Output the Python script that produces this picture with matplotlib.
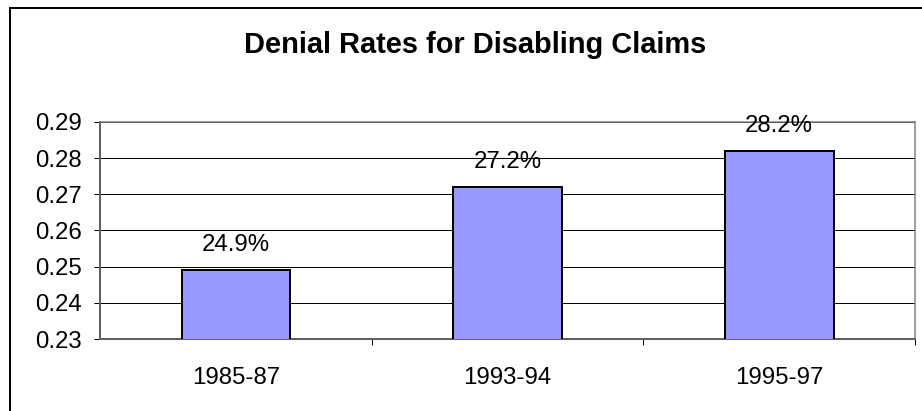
import matplotlib.pyplot as plt
from matplotlib.patches import Rectangle

periods = ["1985-87", "1993-94", "1995-97"]
denial_rates = [0.249, 0.272, 0.282]
yticks = [0.23, 0.24, 0.25, 0.26, 0.27, 0.28, 0.29]

plt.rcParams['font.family'] = ['Liberation Sans', 'DejaVu Sans']

W, H = 922, 411
fig = plt.figure(figsize=(W / 72, H / 72), dpi=72)

# outer chart border
fig.patches.append(Rectangle((10 / W, -0.1), 1.2, 1 - 8 / H + 0.1,
                             transform=fig.transFigure, fill=False,
                             edgecolor='black', linewidth=2))

ax = fig.add_axes([100 / W, (H - 339) / H, 815 / W, 217 / H])
x = range(len(periods))
ax.bar(x, denial_rates, width=0.4, color='#9999FF', edgecolor='black',
       linewidth=2, zorder=3)
ax.set_xlim(-0.5, len(periods) - 0.5)
ax.set_ylim(0.23, 0.29)
ax.set_yticks(yticks)
ax.set_yticklabels([f"{t:.2f}" for t in yticks])
ax.yaxis.grid(True, color='black', linewidth=1)
ax.set_axisbelow(True)

for i, v in enumerate(denial_rates):
    ax.annotate(f"{v * 100:.1f}%", (i, v), xytext=(0, 19),
                textcoords='offset points', ha='center', va='baseline',
                fontsize=24)

ax.set_xticks(list(x))
ax.set_xticklabels(periods)
ax.set_xticks([0.5, 1.5, 2.5], minor=True)
ax.tick_params(axis='x', which='major', length=0, pad=28, labelsize=24)
ax.tick_params(axis='x', which='minor', length=6, width=1, color='black')
ax.tick_params(axis='y', length=6, width=1, pad=12, labelsize=24)

for side in ['left', 'bottom']:
    ax.spines[side].set_color('#606060')
    ax.spines[side].set_linewidth(2)
for side in ['top', 'right']:
    ax.spines[side].set_color('#808080')
    ax.spines[side].set_linewidth(1.5)

fig.text(475 / W, 1 - 45 / H, "Denial Rates for Disabling Claims",
         ha='center', va='center', fontsize=29, fontweight='bold')

fig.savefig('out.png', dpi=72)
